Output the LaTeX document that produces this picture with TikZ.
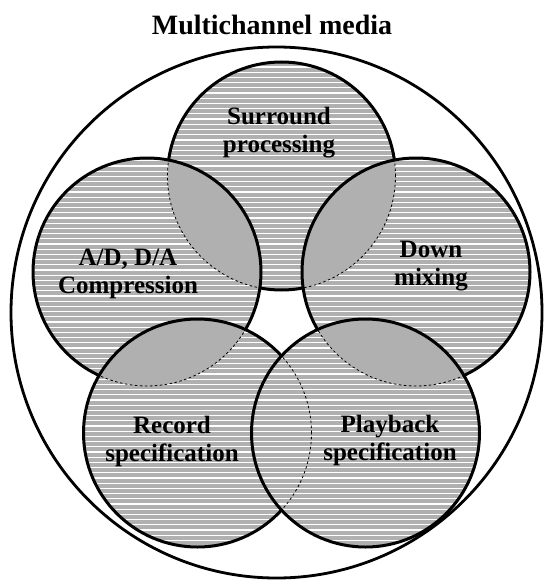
\documentclass[tikz,border=0pt]{standalone}
\usepackage{fontspec}
\setmainfont{Liberation Serif}
\definecolor{discgray}{rgb}{0.69,0.69,0.69}

\tikzset{
  rim/.style={line width=3pt},
  hidden edge/.style={line width=0.8pt, dash pattern=on 2.5pt off 2.5pt},
  disclabel/.style={font=\bfseries\fontsize{25}{28}\selectfont, align=center, anchor=base},
  titlelabel/.style={font=\bfseries\fontsize{28}{30}\selectfont, anchor=base},
}

% a grey disc of radius 114pt hatched with thin white horizontal lines
\newcommand\hatcheddisc[1]{%
  \fill[discgray] (#1) circle (114pt);
  \begin{scope}
    \clip (#1) circle (114pt);
    \foreach \k in {0,...,110}
      \draw[white, line width=1.2pt] (0,4.7+5.2*\k) -- (543,4.7+5.2*\k);
  \end{scope}}

% plain grey overlap of disc #1 (on top) with disc #2 (below)
\newcommand\overlaplens[2]{%
  \begin{scope}
    \clip (#1) circle (114pt);
    \fill[discgray] (#2) circle (114pt);
  \end{scope}}
% edge of the lower disc #2, dashed, where it runs inside disc #1
\newcommand\hiddenrim[2]{%
  \begin{scope}
    \clip (#1) circle (114pt);
    \draw[hidden edge] (#2) circle (114pt);
  \end{scope}}

\begin{document}
\begin{tikzpicture}[x=1pt,y=-1pt]
  \useasboundingbox (0,0) rectangle (543,583);

  \coordinate (O) at (276.5,312.5);
  \coordinate (T) at (281.5,176);
  \coordinate (L) at (147,272);
  \coordinate (R) at (416,272);
  \coordinate (RC) at (197.5,433);
  \coordinate (PB) at (365.5,433);

  % enclosing circle
  \draw[line width=2.8pt] (O) circle (265.5pt);

  % top disc
  \hatcheddisc{T}
  \draw[rim] (T) circle (114pt);

  % left disc over the top one
  \hatcheddisc{L}
  \overlaplens{L}{T}
  \hiddenrim{L}{T}
  \draw[rim] (L) circle (114pt);

  % right disc over the top one
  \hatcheddisc{R}
  \overlaplens{R}{T}
  \hiddenrim{R}{T}
  \draw[rim] (R) circle (114pt);

  % record disc over the left one
  \hatcheddisc{RC}
  \overlaplens{RC}{L}
  \hiddenrim{RC}{L}
  \draw[rim] (RC) circle (114pt);

  % playback disc over the right and record ones
  \hatcheddisc{PB}
  \overlaplens{PB}{R}
  \hiddenrim{PB}{R}
  \hiddenrim{PB}{RC}
  \draw[rim] (PB) circle (114pt);

  % labels (anchored at the baseline of their last line)
  \node[titlelabel] (title) at (272,35) {Multichannel media};
  \node[disclabel] (surround) at (279,152) {Surround\\processing};
  \node[disclabel] (adda) at (128,293) {A/D, D/A\\Compression};
  \node[disclabel] (down) at (431,285) {Down\\mixing};
  \node[disclabel] (record) at (172,461) {Record\\specification};
  \node[disclabel] (playback) at (390,460) {Playback\\specification};
\end{tikzpicture}
\end{document}
